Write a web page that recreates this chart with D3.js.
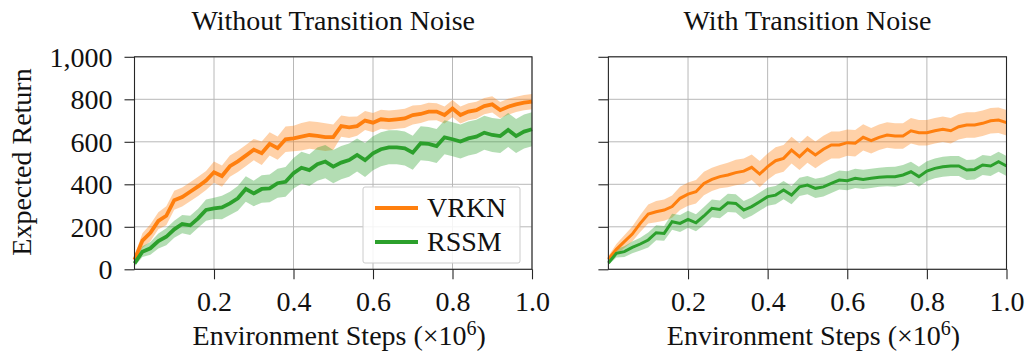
<!DOCTYPE html>
<html>
<head>
<meta charset="utf-8">
<script src="https://cdn.jsdelivr.net/npm/d3@7"></script>
<style>
  html, body { margin: 0; padding: 0; background: #fff; }
  svg { display: block; }
</style>
</head>
<body>
<svg id="chart" width="1025" height="353"></svg>
<script>
// ---------------- data ----------------
const steps = [0.00,0.02,0.04,0.06,0.08,0.10,0.12,0.14,0.16,0.18,0.20,0.22,0.24,0.26,0.28,0.30,0.32,0.34,0.36,0.38,0.40,0.42,0.44,0.46,0.48,0.50,0.52,0.54,0.56,0.58,0.60,0.62,0.64,0.66,0.68,0.70,0.72,0.74,0.76,0.78,0.80,0.82,0.84,0.86,0.88,0.90,0.92,0.94,0.96,0.98,1.00];

const panelTitles = ["Without Transition Noise", "With Transition Noise"];
const seriesNames = ["VRKN", "RSSM"];
const yTickValues = [0, 200, 400, 600, 800, 1000];
const xTickValues = [0.2, 0.4, 0.6, 0.8, 1.0];

// Without transition noise
const noNoiseVRKN = [45,135,172,228,252,325,340,365,390,418,457,439,485,508,535,563,546,590,570,612,616,624,632,628,622,622,674,668,674,700,690,706,702,706,710,726,731,742,742,726,757,726,742,749,768,776,749,765,776,784,789];
const noNoiseVRKNStd = [20,35,40,40,45,45,45,45,45,45,50,50,50,50,50,50,55,55,55,60,60,65,65,65,65,60,50,50,45,45,45,45,45,45,45,45,42,42,40,40,40,40,40,40,38,38,38,38,36,36,36];
const noNoiseRSSM = [28,83,99,133,153,188,213,207,240,279,287,291,310,334,378,357,378,381,405,412,452,478,467,495,507,483,502,514,538,514,546,565,574,574,569,549,593,590,580,621,612,601,616,624,643,632,627,656,627,648,659];
const noNoiseRSSMStd = [15,25,30,35,40,40,43,45,45,50,50,55,55,58,60,60,65,65,68,70,72,75,75,78,78,78,78,78,78,80,80,80,80,80,80,80,80,80,80,80,80,80,80,80,80,80,80,80,80,80,80];

// With transition noise
const noiseVRKN = [48,94,130,166,216,260,271,279,295,334,354,365,404,423,436,444,455,462,480,448,483,511,522,561,530,565,538,565,585,585,596,593,621,605,621,632,627,627,652,643,643,652,659,652,671,679,679,687,699,702,690];
const noiseVRKNStd = [15,25,30,35,40,45,50,50,52,55,55,55,55,55,55,58,60,60,60,62,62,63,63,63,63,63,63,63,63,63,62,62,62,60,60,60,60,60,60,60,60,60,60,60,60,60,60,60,60,60,60];
const noiseRSSM = [30,75,83,103,119,138,172,169,224,216,235,219,251,287,282,313,310,279,295,318,342,349,373,349,388,396,381,388,404,420,417,428,423,428,433,436,436,444,459,436,462,475,483,486,486,467,470,491,486,506,486];
const noiseRSSMStd = [10,20,25,28,30,35,35,35,38,40,40,40,42,42,42,43,43,43,43,43,43,43,43,43,43,43,45,45,45,45,45,45,45,45,45,45,47,47,47,47,47,47,47,47,47,47,47,47,47,47,47];

// ---------------- drawing ----------------
const colors = { VRKN: "#ff7f0e", RSSM: "#2ca02c" };
const FONT = "'Liberation Serif', 'Times New Roman', serif";
const FS = 28;

const svg = d3.select("#chart");
const yScale = d3.scaleLinear().domain([0, 1000]).range([269.3, 56.8]);

const panels = [
  { title: panelTitles[0], left: 134.5, right: 532, yLabels: true, lw: 3.8,
    series: [
      { name: seriesNames[0], mean: noNoiseVRKN, std: noNoiseVRKNStd },
      { name: seriesNames[1], mean: noNoiseRSSM, std: noNoiseRSSMStd } ] },
  { title: panelTitles[1], left: 608.4, right: 1006.5, yLabels: false, lw: 3.0,
    series: [
      { name: seriesNames[0], mean: noiseVRKN, std: noiseVRKNStd },
      { name: seriesNames[1], mean: noiseRSSM, std: noiseRSSMStd } ] }
];

panels.forEach((p, pi) => {
  const x = d3.scaleLinear().domain([0, 1]).range([p.left, p.right]);
  const y = yScale;
  const g = svg.append("g");
  const [y0, y1] = y.range();

  // grid
  g.append("g").selectAll("line").data(yTickValues).join("line")
    .attr("x1", p.left).attr("x2", p.right)
    .attr("y1", d => y(d)).attr("y2", d => y(d))
    .attr("stroke", "#b8b8b8").attr("stroke-width", 1);
  g.append("g").selectAll("line").data(xTickValues).join("line")
    .attr("x1", d => x(d)).attr("x2", d => x(d))
    .attr("y1", y0).attr("y2", y1)
    .attr("stroke", "#b8b8b8").attr("stroke-width", 1);

  // bands
  p.series.forEach(s => {
    const pts = steps.map((t, i) => ({ t, m: s.mean[i], sd: s.std[i] }));
    const area = d3.area().x(d => x(d.t)).y0(d => y(Math.max(0, d.m - d.sd))).y1(d => y(d.m + d.sd));
    g.append("path").datum(pts).attr("d", area)
      .attr("fill", colors[s.name]).attr("fill-opacity", 0.36).attr("stroke", "none");
  });
  // lines
  p.series.forEach(s => {
    const pts = steps.map((t, i) => ({ t, m: s.mean[i] }));
    const line = d3.line().x(d => x(d.t)).y(d => y(d.m));
    g.append("path").datum(pts).attr("d", line)
      .attr("fill", "none").attr("stroke", colors[s.name])
      .attr("stroke-width", p.lw).attr("stroke-linejoin", "miter");
  });

  // frame
  g.append("rect").attr("x", p.left).attr("y", y1)
    .attr("width", p.right - p.left).attr("height", y0 - y1)
    .attr("fill", "none").attr("stroke", "#262626").attr("stroke-width", 1.1);

  // axes
  const yAxis = d3.axisLeft(y).tickValues(yTickValues).tickSize(10).tickPadding(12)
    .tickFormat(p.yLabels ? d3.format(",") : () => "");
  const ya = g.append("g").attr("transform", `translate(${p.left},0)`).call(yAxis);
  const xAxis = d3.axisBottom(x).tickValues(xTickValues).tickSize(10).tickPadding(12)
    .tickFormat(d3.format(".1f"));
  const xa = g.append("g").attr("transform", `translate(0,${y0})`).call(xAxis);
  [ya, xa].forEach(a => {
    a.select(".domain").remove();
    a.selectAll(".tick line").attr("stroke", "#262626").attr("stroke-width", 1.1);
    a.selectAll(".tick text").attr("font-family", FONT).attr("font-size", FS).attr("fill", "#111");
  });
  ya.selectAll(".tick text").attr("dy", "0.34em");
  xa.selectAll(".tick text").attr("dy", "0.70em");

  const cx = (p.left + p.right) / 2;
  // title
  g.append("text").attr("x", cx).attr("y", 30).attr("text-anchor", "middle")
    .attr("font-family", FONT).attr("font-size", FS).attr("fill", "#111")
    .text(p.title);
  // x label
  const xl = g.append("text").attr("x", cx + 6).attr("y", 345).attr("text-anchor", "middle")
    .attr("font-family", FONT).attr("font-size", FS).attr("fill", "#111");
  xl.append("tspan").text("Environment Steps (×10");
  xl.append("tspan").attr("dy", -10).attr("font-size", 20).text("6");
  xl.append("tspan").attr("dy", 10).text(")");

  if (pi === 0) {
    svg.append("text")
      .attr("transform", `translate(31,162) rotate(-90)`)
      .attr("text-anchor", "middle")
      .attr("font-family", FONT).attr("font-size", FS).attr("fill", "#111")
      .text("Expected Return");

    // legend
    const lg = g.append("g");
    lg.append("rect").attr("x", 363).attr("y", 187).attr("width", 157).attr("height", 76)
      .attr("rx", 2).attr("fill", "#fff").attr("fill-opacity", 0.85)
      .attr("stroke", "#cccccc").attr("stroke-width", 1);
    seriesNames.forEach((n, i) => {
      const ly = 208 + i * 34;
      lg.append("line").attr("x1", 375).attr("x2", 418).attr("y1", ly).attr("y2", ly)
        .attr("stroke", colors[n]).attr("stroke-width", 4);
      lg.append("text").attr("x", 427).attr("y", ly + 9)
        .attr("font-family", FONT).attr("font-size", FS).attr("fill", "#111").text(n);
    });
  }
});
</script>
</body>
</html>
